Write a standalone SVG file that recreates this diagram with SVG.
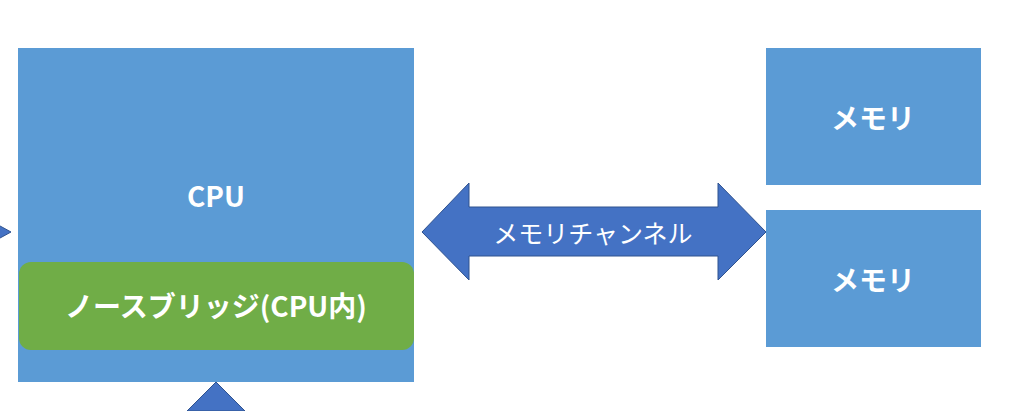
<svg xmlns="http://www.w3.org/2000/svg" width="1024" height="411" viewBox="0 0 1024 411">
<style>
.box{fill:#5B9BD5}
.nb{fill:#70AD47}
.arr{fill:#4472C4;stroke:#2F528F;stroke-width:1}
.t{fill:#fff;font-family:"Noto Sans CJK JP","Noto Sans",sans-serif;text-anchor:middle;dominant-baseline:central}
.b{font-weight:bold;font-size:28px}
</style>
<rect width="1024" height="411" fill="#fff"/>
<g id="connectors">
<polygon class="arr" points="-20,215 11,232 -20,249"/>
<polygon class="arr" points="216,382 187,411 245,411"/>
<polygon class="arr" points="422,232 469,183 469,207 718,207 718,183 766,232 718,280 718,256 469,256 469,280"/>
<text class="t" x="593" y="232" font-size="25">メモリチャンネル</text>
</g>
<g id="cpu">
<rect class="box" x="18" y="48" width="396" height="334"/>
<text class="t b" x="216" y="195">CPU</text>
</g>
<g id="northbridge">
<rect class="nb" x="19" y="262" width="395" height="88" rx="12"/>
<text class="t b" x="216" y="305" font-weight="600">ノースブリッジ(CPU内)</text>
</g>
<g id="mem1">
<rect class="box" x="766" y="48" width="215" height="137"/>
<text class="t b" x="873" y="117">メモリ</text>
</g>
<g id="mem2">
<rect class="box" x="766" y="210" width="215" height="137"/>
<text class="t b" x="873" y="279">メモリ</text>
</g>
</svg>
